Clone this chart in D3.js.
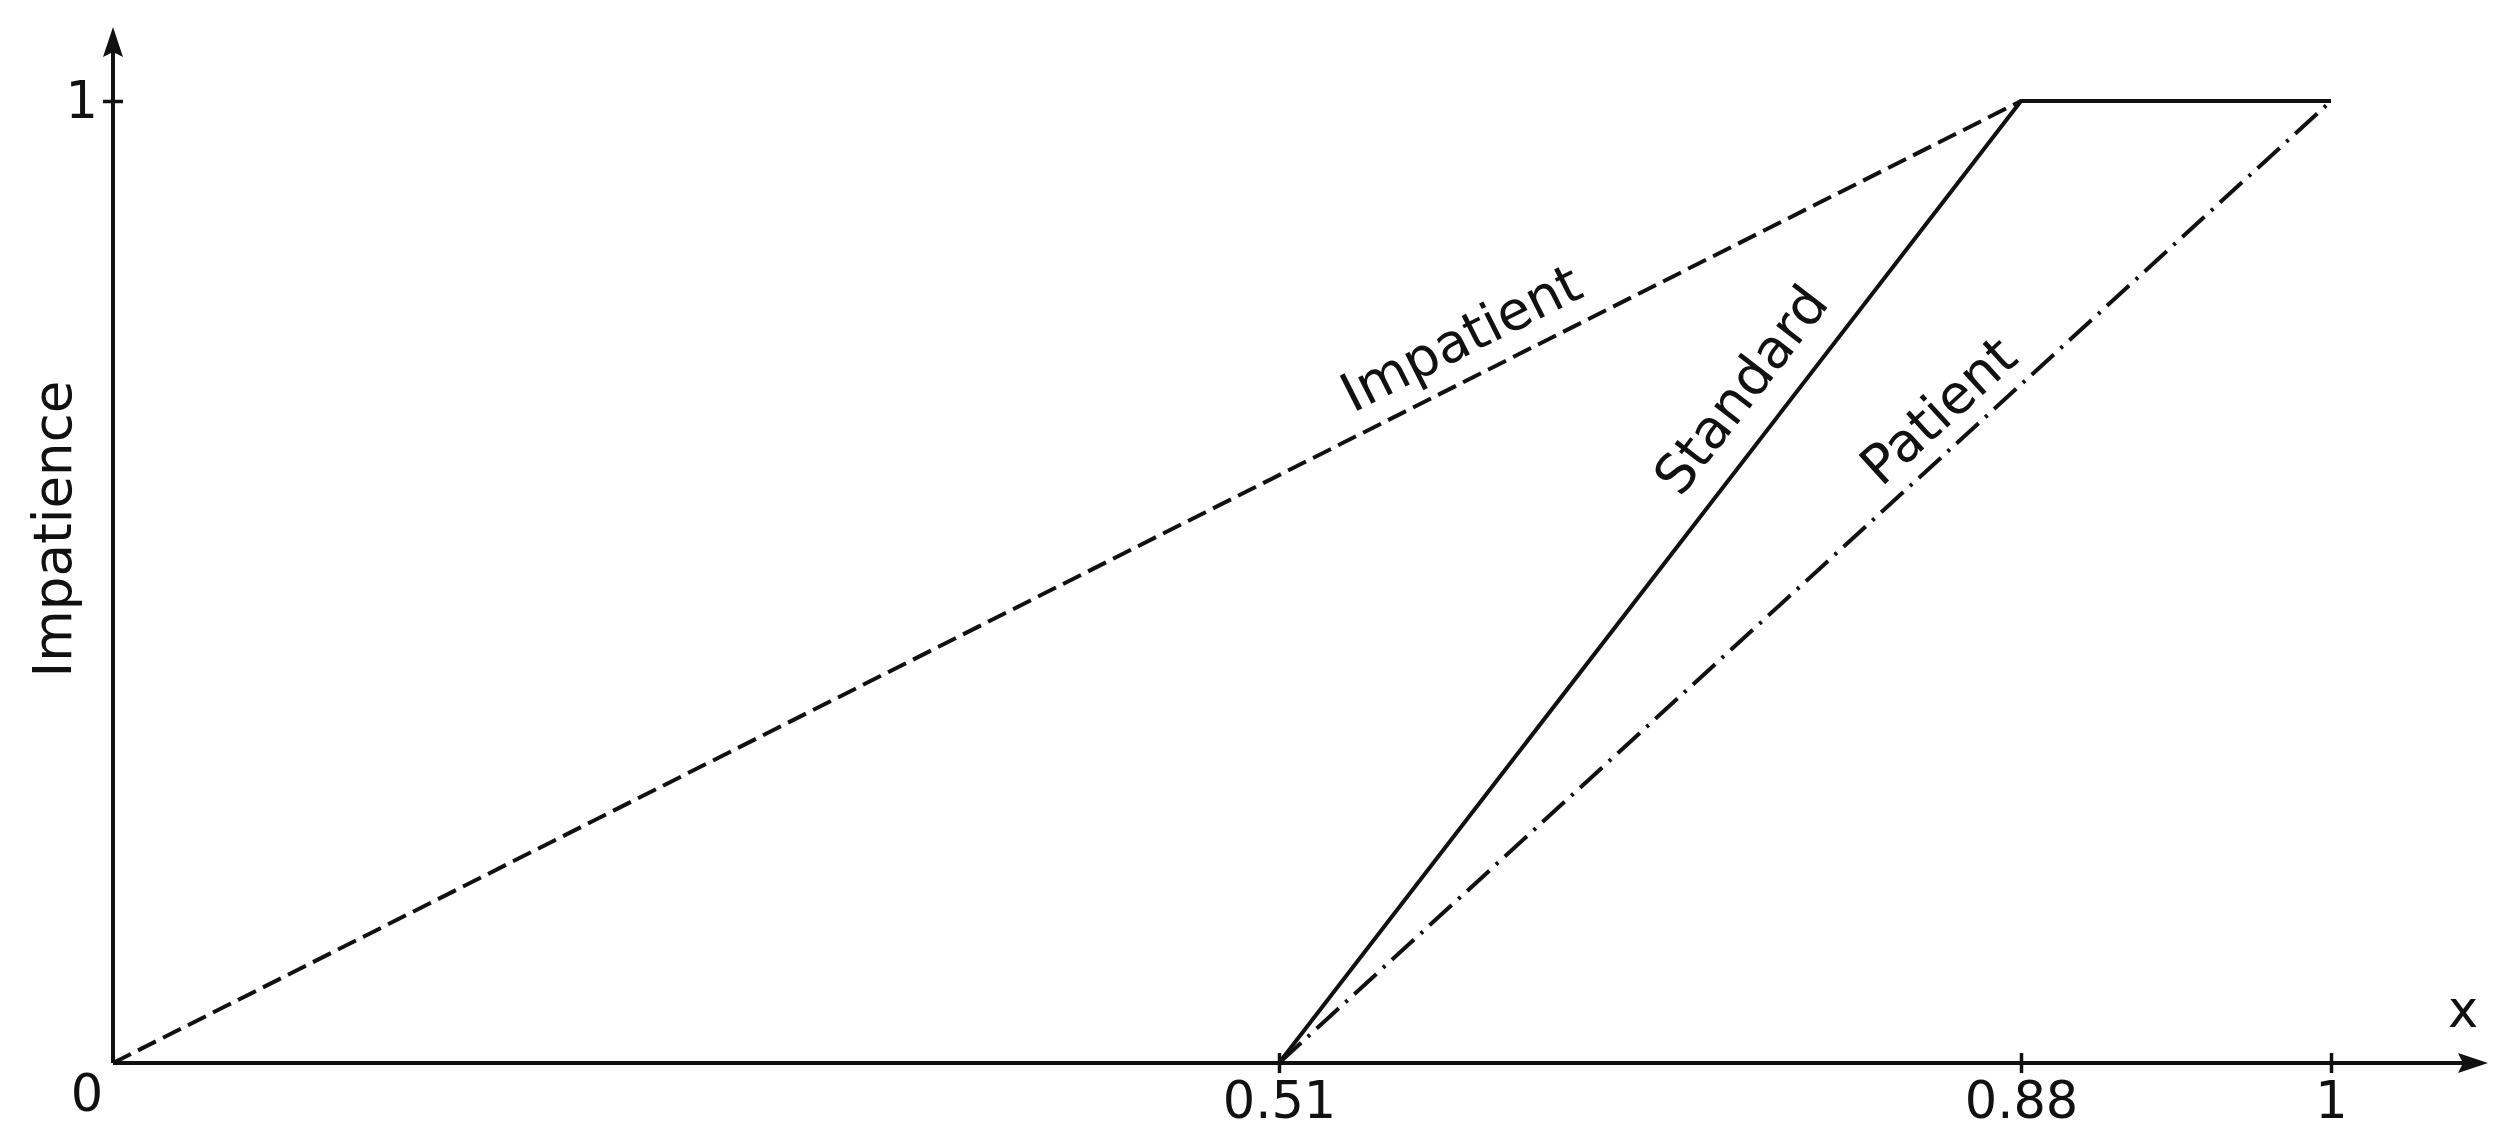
<!DOCTYPE html>
<html>
<head>
<meta charset="utf-8">
<script src="https://cdn.jsdelivr.net/npm/d3@7"></script>
<style>
    body { margin: 0; background: #fff; }
    svg { display: block; font-family: "DejaVu Sans", sans-serif; }
</style>
</head>
<body>
<div id="chart"></div>
<script>
// data
const xTicks = [0.51, 0.88, 1];
const yTicks = [1];
const seriesNames = ['Impatient', 'Patient', 'Standard'];
const impatientX = [0, 0.88, 1];
const impatientY = [0, 1, 1];
const patientX = [0.51, 1];
const patientY = [0, 1];
const standardX = [0.51, 0.88, 1];
const standardY = [0, 1, 1];

const width = 2510;
const height = 1146;

// the original axis is hand-placed, so x is piecewise between the ticks
const x = d3.scaleLinear()
    .domain([0, 0.51, 0.88, 1])
    .range([113, 1279, 2021, 2331]);
const y = d3.scaleLinear()
    .domain([0, 1])
    .range([1063, 101]);

const series = [
    { name: seriesNames[0], xs: impatientX, ys: impatientY, dash: '20,8', t: 0.716, off: 22 },
    { name: seriesNames[1], xs: patientX, ys: patientY, dash: '30,9,3,9', t: 0.65, off: 18 },
    { name: seriesNames[2], xs: standardX, ys: standardY, dash: null, t: 0.671, off: 27 },
];

const svg = d3.select('#chart')
    .append('svg')
    .attr('width', width)
    .attr('height', height)
    .attr('viewBox', [0, 0, width, height]);

const ink = '#111';

// axis lines with arrow heads
const xEnd = 2488;
const yEnd = 27;
svg.append('line')
    .attr('x1', x(0)).attr('y1', y(0))
    .attr('x2', xEnd - 20).attr('y2', y(0))
    .style('stroke', ink).style('stroke-width', 4);
svg.append('line')
    .attr('x1', x(0)).attr('y1', y(0))
    .attr('x2', x(0)).attr('y2', yEnd + 20)
    .style('stroke', ink).style('stroke-width', 4);

function arrow(tipX, tipY, dir) {
    // dir: 'right' or 'up'
    const p = d3.path();
    if (dir === 'right') {
        p.moveTo(tipX, tipY);
        p.lineTo(tipX - 30, tipY - 10);
        p.lineTo(tipX - 25, tipY);
        p.lineTo(tipX - 30, tipY + 10);
    } else {
        p.moveTo(tipX, tipY);
        p.lineTo(tipX - 10, tipY + 30);
        p.lineTo(tipX, tipY + 25);
        p.lineTo(tipX + 10, tipY + 30);
    }
    p.closePath();
    svg.append('path').attr('d', p.toString()).style('fill', ink);
}
arrow(xEnd, y(0), 'right');
arrow(x(0), yEnd, 'up');

// ticks
const xAxis = svg.append('g')
    .attr('transform', `translate(0, ${ y(0) })`)
    .call(d3.axisBottom(x).tickValues(xTicks).tickFormat((d) => String(d))
        .tickSizeInner(10).tickSizeOuter(0).tickPadding(9));
const yAxis = svg.append('g')
    .attr('transform', `translate(${ x(0) }, 0)`)
    .call(d3.axisLeft(y).tickValues(yTicks).tickFormat((d) => String(d))
        .tickSizeInner(10).tickSizeOuter(0).tickPadding(5));

[xAxis, yAxis].forEach((g) => {
    g.select('.domain').remove();
    g.selectAll('text')
        .style('font-family', '"DejaVu Sans", sans-serif')
        .style('font-size', '51px')
        .style('fill', ink);
    g.selectAll('line').style('stroke', ink).style('stroke-width', 3.5);
});
xAxis.selectAll('.tick line').attr('y1', -10);
yAxis.selectAll('.tick line').attr('x1', 10);

// origin label
svg.append('text')
    .attr('x', 87)
    .attr('y', y(0) + 48)
    .style('text-anchor', 'middle')
    .style('font-size', '51px')
    .style('fill', ink)
    .text('0');

// axis titles
svg.append('text')
    .attr('x', 2463)
    .attr('y', 1027)
    .style('text-anchor', 'middle')
    .style('font-size', '51px')
    .style('fill', ink)
    .text('x');

svg.append('text')
    .attr('transform', 'translate(71, 529) rotate(-90)')
    .style('text-anchor', 'middle')
    .style('font-size', '53px')
    .style('fill', ink)
    .text('Impatience');

// curves
const line = d3.line()
    .x((d) => x(d[0]))
    .y((d) => y(d[1]));

series.forEach((s) => {
    const pts = s.xs.map((v, i) => [v, s.ys[i]]);
    svg.append('path')
        .datum(pts)
        .attr('d', line)
        .style('fill', 'none')
        .style('stroke', ink)
        .style('stroke-width', 4)
        .style('stroke-dasharray', s.dash)
        .style('stroke-linejoin', 'round');

    // label along the first segment
    const x0 = x(pts[0][0]), y0 = y(pts[0][1]);
    const x1 = x(pts[1][0]), y1 = y(pts[1][1]);
    const angle = Math.atan2(y1 - y0, x1 - x0) * 180 / Math.PI;
    const lx = x0 + (x1 - x0) * s.t;
    const ly = y0 + (y1 - y0) * s.t;
    svg.append('text')
        .attr('transform', `translate(${ lx }, ${ ly }) rotate(${ angle })`)
        .attr('y', -s.off)
        .style('text-anchor', 'middle')
        .style('font-size', '54px')
        .style('fill', ink)
        .text(s.name);
});
</script>
</body>
</html>
